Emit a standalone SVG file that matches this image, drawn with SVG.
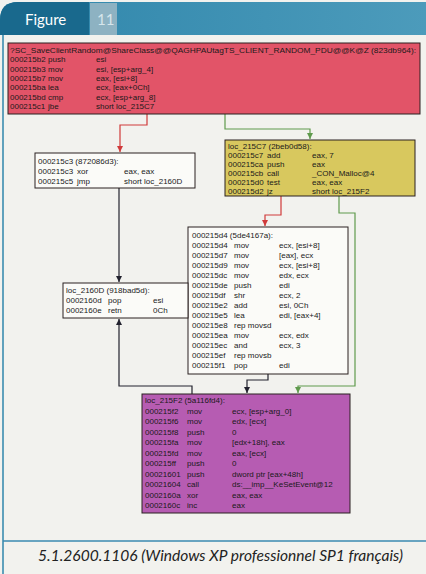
<svg xmlns="http://www.w3.org/2000/svg" width="426" height="574" viewBox="0 0 426 574">
<style>
.code{font-family:"Liberation Sans",Arial,sans-serif;font-size:8px;fill:#1a1a1a}
.box{stroke:#2a2020;stroke-width:1}
.red{fill:none;stroke:#d03a3a;stroke-width:1.2}
.grn{fill:none;stroke:#5f9a4c;stroke-width:1.2}
.blk{fill:none;stroke:#22222e;stroke-width:1.2}
</style>
<defs>
<linearGradient id="bar" x1="0" y1="0" x2="1" y2="0"><stop offset="0" stop-color="#2f86ab"/><stop offset="1" stop-color="#4c9bbb"/></linearGradient>
<marker id="ar" markerUnits="userSpaceOnUse" markerWidth="8" markerHeight="8" refX="6" refY="3" orient="auto"><path d="M0,0 L6,3 L0,6 Z" fill="#d03a3a"/></marker>
<marker id="ag" markerUnits="userSpaceOnUse" markerWidth="8" markerHeight="8" refX="6" refY="3" orient="auto"><path d="M0,0 L6,3 L0,6 Z" fill="#5f9a4c"/></marker>
<marker id="ab" markerUnits="userSpaceOnUse" markerWidth="8" markerHeight="8" refX="6" refY="3" orient="auto"><path d="M0,0 L6,3 L0,6 Z" fill="#22222e"/></marker>
</defs>
<rect width="426" height="574" fill="#f2f2ee"/>
<g id="header">
<path d="M0,35 V20 Q0,2 18,2 H426 V35 Z" fill="url(#bar)"/>
<path d="M0,35 V20 Q0,2 18,2 H89 V35 Z" fill="#19698d"/>
<rect x="90" y="3" width="27" height="32" fill="#8db2c2"/>
<text x="25" y="25" font-family="Lato,'Open Sans',sans-serif" font-size="15" fill="#ffffff">Figure</text>
<text x="97" y="25" font-family="Lato,'Open Sans',sans-serif" font-size="15" fill="#d6e6ec">11</text>
</g>
<line x1="3" y1="35" x2="3" y2="574" stroke="#2f86ab" stroke-width="1.5"/>
<line x1="3" y1="541" x2="426" y2="541" stroke="#3a8ab0" stroke-width="1.5"/>

<g id="connectors">
<path class="red" d="M147,114 V125 H120 V152" marker-end="url(#ar)"/>
<path class="grn" d="M225,114 V129 H310 V139" marker-end="url(#ag)"/>
<path class="blk" d="M119,188 V282" marker-end="url(#ab)"/>
<path class="red" d="M281,196 V215 H265 V226" marker-end="url(#ar)"/>
<path class="grn" d="M339,196 V213 H355 V386 H298 V393" marker-end="url(#ag)"/>
<path class="blk" d="M268,374 V380 H247 V393" marker-end="url(#ab)"/>
<path class="blk" d="M192,394 V386 H119 V319" marker-end="url(#ab)"/>
</g>

<g id="n_red">
<rect class="box" x="8" y="43" width="412" height="71" fill="#e25468"/>
<text class="code" x="10" y="53" textLength="406" lengthAdjust="spacingAndGlyphs">?SC_SaveClientRandom@ShareClass@@QAGHPAUtagTS_CLIENT_RANDOM_PDU@@K@Z (823db964):</text>
<text class="code" y="62.3"><tspan x="10">000215b2</tspan><tspan x="48">push</tspan><tspan x="96">esi</tspan></text>
<text class="code" y="71.6"><tspan x="10">000215b3</tspan><tspan x="48">mov</tspan><tspan x="96">esi, [esp+arg_4]</tspan></text>
<text class="code" y="80.9"><tspan x="10">000215b7</tspan><tspan x="48">mov</tspan><tspan x="96">eax, [esi+8]</tspan></text>
<text class="code" y="90.2"><tspan x="10">000215ba</tspan><tspan x="48">lea</tspan><tspan x="96">ecx, [eax+0Ch]</tspan></text>
<text class="code" y="99.5"><tspan x="10">000215bd</tspan><tspan x="48">cmp</tspan><tspan x="96">ecx, [esp+arg_8]</tspan></text>
<text class="code" y="108.8"><tspan x="10">000215c1</tspan><tspan x="48">jbe</tspan><tspan x="96">short loc_215C7</tspan></text>
</g>

<g id="n_a">
<rect class="box" x="35" y="153" width="160" height="35" fill="#fbfbf8"/>
<text class="code" x="38" y="164">000215c3 (872086d3):</text>
<text class="code" y="174"><tspan x="38">000215c3</tspan><tspan x="77">xor</tspan><tspan x="124">eax, eax</tspan></text>
<text class="code" y="184"><tspan x="38">000215c5</tspan><tspan x="77">jmp</tspan><tspan x="124">short loc_2160D</tspan></text>
</g>

<g id="n_yellow">
<rect class="box" x="225" y="140" width="190" height="56" fill="#d8c85e"/>
<text class="code" x="228" y="149">loc_215C7 (2beb0d58):</text>
<text class="code" y="158"><tspan x="228">000215c7</tspan><tspan x="267">add</tspan><tspan x="312">eax, 7</tspan></text>
<text class="code" y="167"><tspan x="228">000215ca</tspan><tspan x="267">push</tspan><tspan x="312">eax</tspan></text>
<text class="code" y="176"><tspan x="228">000215cb</tspan><tspan x="267">call</tspan><tspan x="312">_CON_Malloc@4</tspan></text>
<text class="code" y="185"><tspan x="228">000215d0</tspan><tspan x="267">test</tspan><tspan x="312">eax, eax</tspan></text>
<text class="code" y="194"><tspan x="228">000215d2</tspan><tspan x="267">jz</tspan><tspan x="312">short loc_215F2</tspan></text>
</g>

<g id="n_b">
<rect class="box" x="188" y="227" width="160" height="147" fill="#fbfbf8"/>
<text class="code" x="192" y="238">000215d4 (5de4167a):</text>
<text class="code" y="248"><tspan x="192">000215d4</tspan><tspan x="234">mov</tspan><tspan x="279">ecx, [esi+8]</tspan></text>
<text class="code" y="258"><tspan x="192">000215d7</tspan><tspan x="234">mov</tspan><tspan x="279">[eax], ecx</tspan></text>
<text class="code" y="268"><tspan x="192">000215d9</tspan><tspan x="234">mov</tspan><tspan x="279">ecx, [esi+8]</tspan></text>
<text class="code" y="278"><tspan x="192">000215dc</tspan><tspan x="234">mov</tspan><tspan x="279">edx, ecx</tspan></text>
<text class="code" y="288"><tspan x="192">000215de</tspan><tspan x="234">push</tspan><tspan x="279">edi</tspan></text>
<text class="code" y="298"><tspan x="192">000215df</tspan><tspan x="234">shr</tspan><tspan x="279">ecx, 2</tspan></text>
<text class="code" y="308"><tspan x="192">000215e2</tspan><tspan x="234">add</tspan><tspan x="279">esi, 0Ch</tspan></text>
<text class="code" y="318"><tspan x="192">000215e5</tspan><tspan x="234">lea</tspan><tspan x="279">edi, [eax+4]</tspan></text>
<text class="code" y="328"><tspan x="192">000215e8</tspan><tspan x="234">rep movsd</tspan></text>
<text class="code" y="338"><tspan x="192">000215ea</tspan><tspan x="234">mov</tspan><tspan x="279">ecx, edx</tspan></text>
<text class="code" y="348"><tspan x="192">000215ec</tspan><tspan x="234">and</tspan><tspan x="279">ecx, 3</tspan></text>
<text class="code" y="358"><tspan x="192">000215ef</tspan><tspan x="234">rep movsb</tspan></text>
<text class="code" y="368"><tspan x="192">000215f1</tspan><tspan x="234">pop</tspan><tspan x="279">edi</tspan></text>
</g>

<g id="n_c">
<rect class="box" x="63" y="283" width="125" height="35" fill="#fbfbf8"/>
<text class="code" x="66" y="293">loc_2160D (918bad5d):</text>
<text class="code" y="303"><tspan x="66">0002160d</tspan><tspan x="108">pop</tspan><tspan x="153">esi</tspan></text>
<text class="code" y="313"><tspan x="66">0002160e</tspan><tspan x="108">retn</tspan><tspan x="153">0Ch</tspan></text>
</g>

<g id="n_purple">
<rect class="box" x="142" y="394" width="208" height="119" fill="#b65cb2"/>
<text class="code" x="145" y="403">loc_215F2 (5a116fd4):</text>
<text class="code" y="413.5"><tspan x="145">000215f2</tspan><tspan x="187">mov</tspan><tspan x="232">ecx, [esp+arg_0]</tspan></text>
<text class="code" y="424"><tspan x="145">000215f6</tspan><tspan x="187">mov</tspan><tspan x="232">edx, [ecx]</tspan></text>
<text class="code" y="434.5"><tspan x="145">000215f8</tspan><tspan x="187">push</tspan><tspan x="232">0</tspan></text>
<text class="code" y="445"><tspan x="145">000215fa</tspan><tspan x="187">mov</tspan><tspan x="232">[edx+18h], eax</tspan></text>
<text class="code" y="455.5"><tspan x="145">000215fd</tspan><tspan x="187">mov</tspan><tspan x="232">eax, [ecx]</tspan></text>
<text class="code" y="466"><tspan x="145">000215ff</tspan><tspan x="187">push</tspan><tspan x="232">0</tspan></text>
<text class="code" y="476.5"><tspan x="145">00021601</tspan><tspan x="187">push</tspan><tspan x="232">dword ptr [eax+48h]</tspan></text>
<text class="code" y="487"><tspan x="145">00021604</tspan><tspan x="187">call</tspan><tspan x="232">ds:__imp__KeSetEvent@12</tspan></text>
<text class="code" y="497.5"><tspan x="145">0002160a</tspan><tspan x="187">xor</tspan><tspan x="232">eax, eax</tspan></text>
<text class="code" y="508"><tspan x="145">0002160c</tspan><tspan x="187">inc</tspan><tspan x="232">eax</tspan></text>
</g>

<text x="38" y="561" font-family="Lato,'Open Sans',sans-serif" font-style="italic" font-size="15" fill="#222" textLength="365" lengthAdjust="spacingAndGlyphs">5.1.2600.1106 (Windows XP professionnel SP1 français)</text>
</svg>
